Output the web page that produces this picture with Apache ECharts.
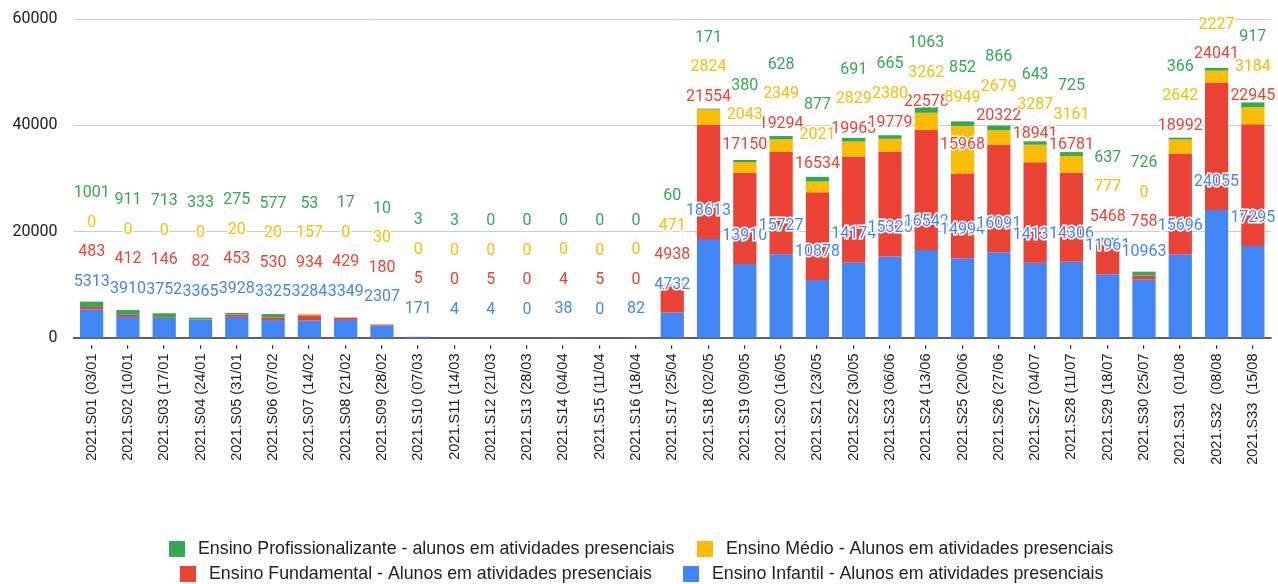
<!DOCTYPE html>
<html>
<head>
<meta charset="utf-8"/>
<title>Alunos em atividades presenciais</title>
<script src="https://cdn.jsdelivr.net/npm/echarts@6/dist/echarts.min.js"></script>
<style>
    html, body { margin: 0; padding: 0; background: #fff; }
    #main { width: 1278px; height: 584px; }
</style>
</head>
<body>
<div id="main"></div>
<script>
// semanas de 2021
var weeks = [
    '2021.S01 (03/01 -', '2021.S02 (10/01 -', '2021.S03 (17/01 -', '2021.S04 (24/01 -',
    '2021.S05 (31/01 -', '2021.S06 (07/02 -', '2021.S07 (14/02 -', '2021.S08 (21/02 -',
    '2021.S09 (28/02 -', '2021.S10 (07/03 -', '2021.S11 (14/03 -', '2021.S12 (21/03 -',
    '2021.S13 (28/03 -', '2021.S14 (04/04 -', '2021.S15 (11/04 -', '2021.S16 (18/04 -',
    '2021.S17 (25/04 -', '2021.S18 (02/05 -', '2021.S19 (09/05 -', '2021.S20 (16/05 -',
    '2021.S21 (23/05 -', '2021.S22 (30/05 -', '2021.S23 (06/06 -', '2021.S24 (13/06 -',
    '2021.S25 (20/06 -', '2021.S26 (27/06 -', '2021.S27 (04/07 -', '2021.S28 (11/07 -',
    '2021.S29 (18/07 -', '2021.S30 (25/07 -', '2021.S31  (01/08 -', '2021.S32  (08/08 -',
    '2021.S33  (15/08 -'
];

var infantil = [5313, 3910, 3752, 3365, 3928, 3325, 3284, 3349, 2307, 171, 4, 4, 0, 38, 0, 82,
    4732, 18613, 13910, 15727, 10878, 14174, 15325, 16542, 14994, 16091, 14131, 14306, 11961, 10963,
    15696, 24055, 17295];
var fundamental = [483, 412, 146, 82, 453, 530, 934, 429, 180, 5, 0, 5, 0, 4, 5, 0,
    4938, 21554, 17150, 19294, 16534, 19963, 19779, 22578, 15968, 20322, 18941, 16781, 5468, 758,
    18992, 24041, 22945];
var medio = [0, 0, 0, 0, 20, 20, 157, 0, 30, 0, 0, 0, 0, 0, 0, 0,
    471, 2824, 2043, 2349, 2021, 2829, 2380, 3262, 8949, 2679, 3287, 3161, 777, 0,
    2642, 2227, 3184];
var profissionalizante = [1001, 911, 713, 333, 275, 577, 53, 17, 10, 3, 3, 0, 0, 0, 0, 0,
    60, 171, 380, 628, 877, 691, 665, 1063, 852, 866, 643, 725, 637, 726,
    366, 520, 917];

var yTicks = [0, 20000, 40000, 60000];

var names = [
    'Ensino Infantil - Alunos em atividades presenciais',
    'Ensino Fundamental - Alunos em atividades presenciais',
    'Ensino Médio - Alunos em atividades presenciais',
    'Ensino Profissionalizante - alunos em atividades presenciais'
];
var colors = ['#4285f4', '#ea4335', '#fbbc04', '#34a853'];
var stackValues = [infantil, fundamental, medio, profissionalizante];

var chart = echarts.init(document.getElementById('main'));

// rótulos empilhados acima de cada segmento, empurrados para cima quando se sobrepõem
function labelCenterY(seriesIndex, dataIndex) {
    var cum = 0, y = Infinity;
    for (var s = 0; s <= seriesIndex; s++) {
        cum += stackValues[s][dataIndex];
        var top = chart.convertToPixel({yAxisIndex: 0}, cum);
        y = Math.min(top - 28, y - 29.5);
    }
    return y;
}

var series = stackValues.map(function (vals, i) {
    return {
        name: names[i],
        type: 'bar',
        stack: 'total',
        barWidth: '64%',
        itemStyle: {color: colors[i]},
        emphasis: {disabled: true},
        label: {
            show: true,
            position: 'top',
            color: colors[i],
            fontFamily: 'Roboto',
            fontSize: 16,
            textBorderColor: '#fff',
            textBorderWidth: 3
        },
        labelLayout: function (params) {
            var y = labelCenterY(params.seriesIndex, params.dataIndex);
            if (y < 8) y = -100;
            return {
                x: params.rect.x + params.rect.width / 2,
                y: y,
                align: 'center',
                verticalAlign: 'middle'
            };
        },
        data: vals
    };
});

var legendItems = [
    {name: names[3], left: 169, top: 540},
    {name: names[2], left: 697, top: 540},
    {name: names[1], left: 180, top: 565},
    {name: names[0], left: 683, top: 565}
];

var option = {
    animation: false,
    color: colors,
    grid: {left: 73.5, right: 7, top: 19.3, bottom: 246.3},
    legend: legendItems.map(function (it) {
        return {
            data: [it.name],
            left: it.left,
            top: it.top,
            padding: 0,
            itemWidth: 16,
            itemHeight: 16,
            icon: 'rect',
            selectedMode: false,
            textStyle: {fontFamily: 'Arial', fontSize: 17.8, color: '#222', padding: [0, 0, 0, 8]}
        };
    }),
    xAxis: {
        type: 'category',
        data: weeks,
        axisTick: {show: false},
        axisLine: {lineStyle: {color: '#333', width: 1.5}},
        axisLabel: {
            rotate: 90,
            interval: 0,
            margin: 7,
            fontFamily: 'Arial',
            fontSize: 14.5,
            color: '#222'
        }
    },
    yAxis: {
        type: 'value',
        min: yTicks[0],
        max: yTicks[yTicks.length - 1],
        interval: yTicks[1] - yTicks[0],
        axisLabel: {
            fontFamily: 'Roboto',
            fontSize: 16,
            color: '#222',
            margin: 16,
            formatter: function (v) { return String(v); }
        },
        splitLine: {lineStyle: {color: '#cccccc'}}
    },
    series: series
};

chart.setOption(option);
</script>
</body>
</html>
